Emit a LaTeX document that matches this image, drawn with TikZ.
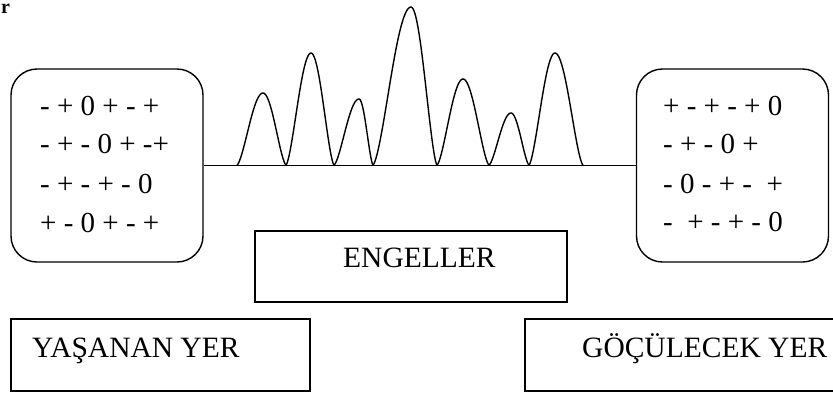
\documentclass[tikz,border=0pt]{standalone}
\usepackage{fontspec}
\setmainfont{Liberation Serif}
\begin{document}
\begin{tikzpicture}[x=1pt,y=-1pt,
  frame/.style={draw,line width=1.4pt,inner sep=0pt},
  rbox/.style={frame,rounded corners=26pt,minimum width=192pt,minimum height=193pt},
  sbox/.style={frame,rectangle},
  row/.style={anchor=base west,inner sep=0pt,font=\fontsize{29}{33}\selectfont},
  lbl/.style={anchor=base west,inner sep=0pt,font=\fontsize{29.5}{33}\selectfont},
  wave/.style={line width=1.4pt,line join=round}]
\clip (0,0) rectangle (833,392);
% partial heading
\node[anchor=base west,inner sep=0pt,font=\fontsize{20}{24}\selectfont\bfseries] (hd) at (1,13.5) {r};
% rounded boxes
\node[rbox] (L) at (107,165.5) {};
\node[rbox] (R) at (732.5,165.5) {};
\node[row] (l1) at (40,115) {- + 0 + - +};
\node[row] (l2) at (40,153) {- + - 0 + -+};
\node[row] (l3) at (40,193) {- + - + - 0};
\node[row] (l4) at (40,232) {+ - 0 + - +};
\node[row] (r1) at (663,115) {+ - + - + 0};
\node[row] (r2) at (663,153) {- + - 0 +};
\node[row] (r3) at (663,193) {- 0 - + -\ \ +};
\node[row] (r4) at (663,231) {-\ \ + - + - 0};
% baseline connector
\draw[wave] (L.east) -- (R.west);
% obstacles wave
\foreach \xa/\xp/\xb/\yh in {237/263/286/93, 286/311/334/53, 334/359/373/99, 373/411/437/7, 437/463/489/79, 489/511/529/113, 529/555/583/53}{
  \draw[wave] plot[domain=0:1,samples=40] ({\xa+(\xp-\xa)*\x},{165-(165-\yh)*sin(90*\x)*sqrt(sin(90*\x))})
     -- plot[domain=0:1,samples=40] ({\xp+(\xb-\xp)*\x},{165-(165-\yh)*cos(90*\x)*sqrt(cos(90*\x))});
}
% rectangular boxes
\node[sbox,minimum width=312pt,minimum height=71pt] (E) at (411,266.5) {};
\node[lbl] (Et) at (343,267) {ENGELLER};
\node[sbox,minimum width=299pt,minimum height=72pt] (Y) at (160.5,355) {};
\node[lbl] (Yt) at (32,357) {YAŞANAN YER};
\node[sbox,minimum width=320pt,minimum height=72pt] (G) at (685,355) {};
\node[lbl] (Gt) at (582,357) {GÖÇÜLECEK YER};
\end{tikzpicture}
\end{document}
